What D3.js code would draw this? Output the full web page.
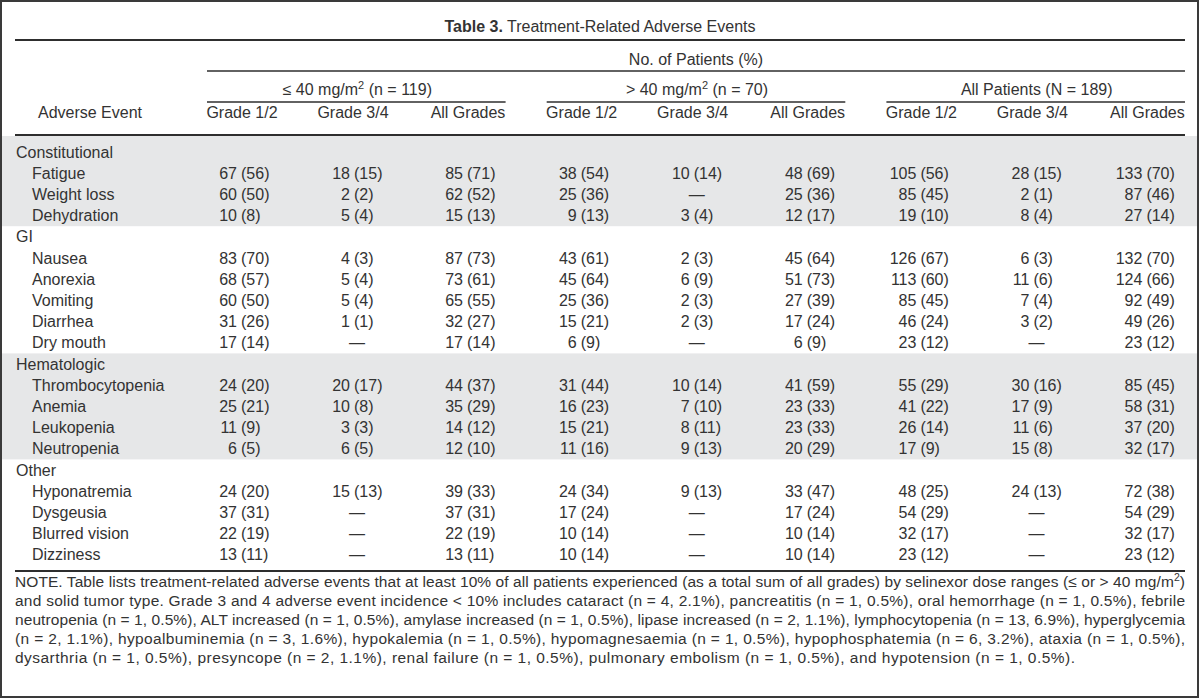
<!DOCTYPE html>
<html>
<head>
<meta charset="utf-8">
<script src="https://cdn.jsdelivr.net/npm/d3@7"></script>
<style>
  html, body { margin: 0; padding: 0; background: #fff; }
  svg { display: block; }
  text { font-family: "Liberation Sans", Arial, sans-serif; fill: #333; }
</style>
</head>
<body>
<script>
// ---------------- DATA ----------------
const titleBold = "Table 3.";
const titleRest = " Treatment-Related Adverse Events";
const spanHeader = "No. of Patients (%)";
const stubHeader = "Adverse Event";

const doseGroups = [
  [["≤ 40 mg/m"], ["2", true], [" (n = 119)"]],
  [["> 40 mg/m"], ["2", true], [" (n = 70)"]],
  [["All Patients (N = 189)"]]
];
const gradeCols = ["Grade 1/2", "Grade 3/4", "All Grades"];

const categories = ["Constitutional", "GI", "Hematologic", "Other"];
const shadedCategories = ["Constitutional", "Hematologic"];
const events = ["Fatigue", "Weight loss", "Dehydration",
  "Nausea", "Anorexia", "Vomiting", "Diarrhea", "Dry mouth",
  "Thrombocytopenia", "Anemia", "Leukopenia", "Neutropenia",
  "Hyponatremia", "Dysgeusia", "Blurred vision", "Dizziness"];
const eventCategory = ["Constitutional", "Constitutional", "Constitutional",
  "GI", "GI", "GI", "GI", "GI",
  "Hematologic", "Hematologic", "Hematologic", "Hematologic",
  "Other", "Other", "Other", "Other"];

// values: [count, percent]; null = no event (dash)
const low_g12 = [[67,56],[60,50],[10,8],[83,70],[68,57],[60,50],[31,26],[17,14],[24,20],[25,21],[11,9],[6,5],[24,20],[37,31],[22,19],[13,11]];
const low_g34 = [[18,15],[2,2],[5,4],[4,3],[5,4],[5,4],[1,1],null,[20,17],[10,8],[3,3],[6,5],[15,13],null,null,null];
const low_all = [[85,71],[62,52],[15,13],[87,73],[73,61],[65,55],[32,27],[17,14],[44,37],[35,29],[14,12],[12,10],[39,33],[37,31],[22,19],[13,11]];
const high_g12 = [[38,54],[25,36],[9,13],[43,61],[45,64],[25,36],[15,21],[6,9],[31,44],[16,23],[15,21],[11,16],[24,34],[17,24],[10,14],[10,14]];
const high_g34 = [[10,14],null,[3,4],[2,3],[6,9],[2,3],[2,3],null,[10,14],[7,10],[8,11],[9,13],[9,13],null,null,null];
const high_all = [[48,69],[25,36],[12,17],[45,64],[51,73],[27,39],[17,24],[6,9],[41,59],[23,33],[23,33],[20,29],[33,47],[17,24],[10,14],[10,14]];
const all_g12 = [[105,56],[85,45],[19,10],[126,67],[113,60],[85,45],[46,24],[23,12],[55,29],[41,22],[26,14],[17,9],[48,25],[54,29],[32,17],[23,12]];
const all_g34 = [[28,15],[2,1],[8,4],[6,3],[11,6],[7,4],[3,2],null,[30,16],[17,9],[11,6],[15,8],[24,13],null,null,null];
const all_all = [[133,70],[87,46],[27,14],[132,70],[124,66],[92,49],[49,26],[23,12],[85,45],[58,31],[37,20],[32,17],[72,38],[54,29],[32,17],[23,12]];
const columnValues = [[low_g12, low_g34, low_all], [high_g12, high_g34, high_all], [all_g12, all_g34, all_all]];

const noteLines = [
  [["NOTE. Table lists treatment-related adverse events that at least 10% of all patients experienced (as a total sum of all grades) by selinexor dose ranges (≤ or > 40 mg/m"], ["2", true], [")"]],
  [["and solid tumor type. Grade 3 and 4 adverse event incidence < 10% includes cataract (n = 4, 2.1%), pancreatitis (n = 1, 0.5%), oral hemorrhage (n = 1, 0.5%), febrile"]],
  [["neutropenia (n = 1, 0.5%), ALT increased (n = 1, 0.5%), amylase increased (n = 1, 0.5%), lipase increased (n = 2, 1.1%), lymphocytopenia (n = 13, 6.9%), hyperglycemia"]],
  [["(n = 2, 1.1%), hypoalbuminemia (n = 3, 1.6%), hypokalemia (n = 1, 0.5%), hypomagnesaemia (n = 1, 0.5%), hypophosphatemia (n = 6, 3.2%), ataxia (n = 1, 0.5%),"]],
  [["dysarthria (n = 1, 0.5%), presyncope (n = 2, 1.1%), renal failure (n = 1, 0.5%), pulmonary embolism (n = 1, 0.5%), and hypotension (n = 1, 0.5%)."]]
];

// ---------------- LAYOUT ----------------
const W = 1200, H = 698;
const tableLeft = 15, tableRight = 1185;
const lastNoteRight = 1075;
const lineColor = "#2e2e2e";
const shade = "#e6e7e8";

const svg = d3.select("body").append("svg").attr("width", W).attr("height", H);

// rows
const rows = [];
categories.forEach(c => {
  rows.push({ type: "cat", label: c, cat: c });
  events.forEach((e, i) => { if (eventCategory[i] === c) rows.push({ type: "item", label: e, cat: c, idx: i }); });
});

const yRow = d3.scaleBand().domain(d3.range(rows.length)).range([141.4, 141.4 + rows.length * 21.2]);
const groupX = d3.scaleBand().domain(d3.range(doseGroups.length)).range([207, 1185]).paddingInner(0.121).paddingOuter(0);
const colX = d3.scalePoint().domain(d3.range(gradeCols.length)).range([32, 258]);
const alignX = (g, c) => groupX(g) + colX(c);

function rich(textSel, parts, supSize, supDy) {
  let afterSup = false;
  parts.forEach(p => {
    if (p[1]) {
      textSel.append("tspan").attr("dy", -supDy).attr("font-size", supSize).text(p[0]);
      afterSup = true;
    } else {
      const t = textSel.append("tspan").text(p[0]);
      if (afterSup) t.attr("dy", supDy);
      afterSup = false;
    }
  });
}

// shaded bands
categories.forEach(c => {
  if (!shadedCategories.includes(c)) return;
  const idxs = rows.map((r, i) => r.cat === c ? i : -1).filter(i => i >= 0);
  let y0 = yRow(idxs[0]);
  if (idxs[0] === 0) y0 = 136;
  const y1 = yRow(idxs[idxs.length - 1]) + yRow.bandwidth();
  svg.append("rect").attr("x", 2).attr("y", y0).attr("width", W - 4).attr("height", y1 - y0).attr("fill", shade);
});

// title
const title = svg.append("text").attr("x", W / 2).attr("y", 26).attr("dy", "0.35em")
  .attr("text-anchor", "middle").attr("font-size", 16);
title.append("tspan").attr("font-weight", "bold").text(titleBold);
title.append("tspan").text(titleRest);

// rules
function hline(x1, x2, y, w) {
  svg.append("line").attr("x1", x1).attr("x2", x2).attr("y1", y).attr("y2", y)
    .attr("stroke", lineColor).attr("stroke-width", w);
}
hline(tableLeft, tableRight, 40, 2);
hline(groupX(0), tableRight, 71, 1.5);
doseGroups.forEach((g, gi) => hline(groupX(gi), groupX(gi) + groupX.bandwidth(), 102, 1.5));
hline(tableLeft, tableRight, 135, 2.2);
hline(tableLeft, tableRight, 571, 2.2);

// spanner header
svg.append("text").attr("x", (groupX(0) + tableRight) / 2).attr("y", 59).attr("dy", "0.35em")
  .attr("text-anchor", "middle").attr("font-size", 16).text(spanHeader);

// dose group headers
doseGroups.forEach((g, gi) => {
  const t = svg.append("text").attr("x", groupX(gi) + groupX.bandwidth() / 2 + 1).attr("y", 89).attr("dy", "0.35em")
    .attr("text-anchor", "middle").attr("font-size", 16);
  rich(t, g, 11, 6);
});

// column headers
svg.append("text").attr("x", 90).attr("y", 112).attr("dy", "0.35em").attr("text-anchor", "middle")
  .attr("font-size", 16).text(stubHeader);
doseGroups.forEach((g, gi) => {
  gradeCols.forEach((c, ci) => {
    svg.append("text").attr("x", alignX(gi, ci) + (ci === 1 ? 1 : 3)).attr("y", 112).attr("dy", "0.35em")
      .attr("text-anchor", "middle").attr("font-size", 16).text(c);
  });
});

// body rows
rows.forEach((r, ri) => {
  const yc = yRow(ri) + yRow.bandwidth() / 2;
  svg.append("text").attr("x", r.type === "cat" ? 16 : 32).attr("y", yc).attr("dy", "0.35em")
    .attr("font-size", 16).text(r.label);
  if (r.type !== "item") return;
  columnValues.forEach((grp, gi) => {
    grp.forEach((col, ci) => {
      const v = col[r.idx];
      const ax = alignX(gi, ci);
      if (v === null) {
        svg.append("text").attr("x", ax + 5).attr("y", yc).attr("dy", "0.35em")
          .attr("text-anchor", "middle").attr("font-size", 16).text("—");
      } else {
        svg.append("text").attr("x", ax - 2).attr("y", yc).attr("dy", "0.35em")
          .attr("text-anchor", "end").attr("font-size", 16).text(v[0]);
        svg.append("text").attr("x", ax + 2).attr("y", yc).attr("dy", "0.35em")
          .attr("text-anchor", "start").attr("font-size", 16).text("(" + v[1] + ")");
      }
    });
  });
});

// note (justified lines)
noteLines.forEach((parts, li) => {
  const t = svg.append("text").attr("x", tableLeft).attr("y", 582 + li * 19).attr("dy", "0.35em")
    .attr("font-size", 15.5);
  rich(t, parts, 10.5, 6);
  const target = (li < noteLines.length - 1) ? (tableRight - tableLeft) : (lastNoteRight - tableLeft);
  t.attr("textLength", target).attr("lengthAdjust", "spacing");
});

// outer frame
svg.append("rect").attr("x", 1).attr("y", 1).attr("width", W - 3).attr("height", H - 2)
  .attr("fill", "none").attr("stroke", "#3a3a3a").attr("stroke-width", 2);
</script>
</body>
</html>
